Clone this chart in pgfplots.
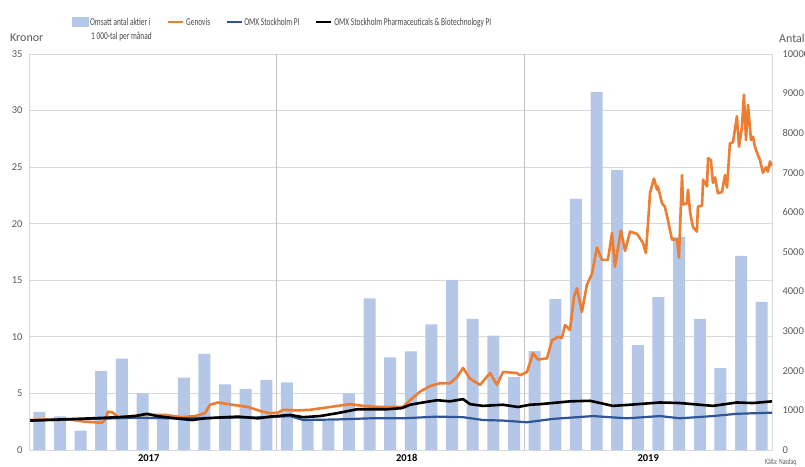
\documentclass[border=0pt]{standalone}
\usepackage{fontspec}
\setmainfont{Carlito}
\newfontfamily\legfont[FakeStretch=0.7]{Carlito}
\usepackage{pgfplots}
\pgfplotsset{compat=1.18}

\definecolor{barblue}{RGB}{180,199,231}
\definecolor{genorange}{RGB}{237,125,49}
\definecolor{omxblue}{RGB}{47,85,151}
\definecolor{ticktext}{RGB}{89,89,89}
\definecolor{gridgray}{RGB}{217,217,217}

\pgfplotsset{
  base/.style={
    scale only axis,
    width=743pt, height=396pt,
    xmin=0, xmax=36,
    at={(0,0)}, anchor=south west,
    major tick length=0pt,
    /pgf/number format/assume math mode=true,
    /pgf/number format/1000 sep={},
    scaled y ticks=false,
    tick label style={text=ticktext, font=\fontsize{10.5}{12}\selectfont},
  },
}

\begin{document}
\begin{tikzpicture}
  % grid, left axis, years
  \begin{axis}[base, clip=false,
      ymin=0, ymax=35, ytick={0,5,...,35},
      ymajorgrids, grid style={gridgray, line width=0.8pt},
      axis line style={gridgray, line width=0.8pt},
      yticklabel style={xshift=-3pt},
      xtick={5.8,18.3,30}, xticklabels={2017,2018,2019},
      xticklabel style={font=\bfseries\fontsize{10.5}{12}\selectfont, text=black, yshift=-1pt},
      extra x ticks={12,24}, extra x tick labels={},
      extra x tick style={grid=major, major grid style={gray!45, line width=0.5pt}},
    ]
    \node[anchor=west, text=ticktext, font=\fontsize{12}{14}\selectfont, inner sep=0pt]
      at (axis description cs:-0.0256,1.0404) {Kronor};
    \node[anchor=west, text=ticktext, font=\fontsize{12}{14}\selectfont, inner sep=0pt]
      at (axis description cs:1.0094,1.0404) {Antal};
    \node[anchor=west, text=ticktext, font=\legfont\fontsize{8}{9}\selectfont, inner sep=0pt]
      at (axis description cs:0.9906,-0.030) {Källa: Nasdaq};
  \end{axis}

  % monthly turnover, right axis
  \begin{axis}[base,
      ymin=0, ymax=10000, ytick={0,1000,...,10000},
      axis y line*=right, axis x line=none,
      y axis line style={draw=none},
      yticklabel style={xshift=7pt},
      ybar, bar width=12pt,
    ]
    \addplot[fill=barblue, draw=none] coordinates {
      (0.5,960) (1.5,850) (2.5,490) (3.5,2000) (4.5,2310) (5.5,1430)
      (6.5,890) (7.5,1830) (8.5,2430) (9.5,1660) (10.5,1540) (11.5,1770)
      (12.5,1710) (13.5,800) (14.5,740) (15.5,1430) (16.5,3830) (17.5,2340)
      (18.5,2490) (19.5,3170) (20.5,4290) (21.5,3310) (22.5,2890) (23.5,1840)
      (24.5,2500) (25.5,3810) (26.5,6340) (27.5,9040) (28.5,7070) (29.5,2650)
      (30.5,3860) (31.5,5380) (32.5,3310) (33.5,2070) (34.5,4900) (35.5,3740)
    };
  \end{axis}

  % price lines, left axis
  \begin{axis}[base,
      ymin=0, ymax=35, hide axis,
      legend columns=4,
      legend style={
        at={(0.0579,1.0985)}, anchor=north west,
        draw=none, fill=none, inner sep=0pt,
        font=\legfont\fontsize{10.5}{14}\selectfont, text=ticktext!80!black,
        cells={anchor=base west},
        nodes={inner sep=0.5pt},
        /tikz/every odd column/.append style={column sep=1pt},
        /tikz/every even column/.append style={column sep=15pt},
      },
      legend image code/.code={\draw[#1] (0pt,3.5pt) -- (15pt,3.5pt);},
    ]
    \addlegendimage{legend image code/.code={\fill[barblue] (0pt,-1pt) rectangle (16pt,8pt);}}
    \addlegendentry{\begin{tabular}[t]{@{}l@{}}Omsatt antal aktier i\\\hspace*{1pt}1\,000-tal per månad\end{tabular}}

    \addplot[genorange, line width=2.6pt, line join=round] coordinates {
      (0.05,2.65)(0.78,2.7)(1.41,2.65)(1.99,2.7)(2.71,2.5)(3.20,2.45)(3.54,2.4)
      (3.73,2.8)(3.83,3.4)(4.07,3.3)(4.31,2.9)(4.99,3.0)(5.62,3.1)(6.59,3.1)
      (7.41,2.9)(8.04,3.0)(8.53,3.25)(8.77,4.0)(9.16,4.2)(9.84,4.0)(10.61,3.8)
      (11.29,3.4)(11.68,3.25)(12.06,3.3)(12.31,3.55)(12.98,3.5)(13.61,3.55)
      (14.58,3.8)(15.55,4.05)(16.18,3.9)(17.01,3.8)(18.12,3.8)(18.46,4.4)
      (18.94,5.15)(19.43,5.65)(19.91,5.9)(20.40,5.9)(20.74,6.45)(21.03,7.25)
      (21.37,6.3)(21.85,5.75)(22.34,6.8)(22.67,5.75)(22.97,6.9)(23.64,6.8)
      (23.79,6.6)(24.13,6.9)(24.42,8.55)(24.66,8.0)(25.10,8.1)(25.34,9.7)
      (25.63,10.0)(25.82,9.9)(25.97,11.05)(26.21,10.6)(26.41,13.55)(26.55,14.3)
      (26.79,12.2)(27.03,14.6)(27.28,15.6)(27.52,17.9)(27.76,16.8)(28.05,16.8)
      (28.25,19.2)(28.39,16.2)(28.68,19.4)(28.88,17.6)(29.12,19.3)(29.46,19.1)
      (29.75,18.3)(29.89,17.4)(29.99,20.0)(30.09,22.7)(30.28,24.0)(30.43,23.0)
      (30.47,23.3)(30.67,21.8)(30.81,21.5)(30.96,20.3)(31.15,18.6)(31.40,18.6)
      (31.49,17.0)(31.64,24.3)(31.69,21.7)(31.88,21.8)(31.93,23.0)(32.03,21.0)
      (32.17,19.7)(32.36,19.3)(32.41,21.5)(32.61,21.6)(32.66,23.9)(32.85,23.3)
      (32.90,25.8)(33.04,25.6)(33.14,23.6)(33.24,24.1)(33.38,22.7)(33.58,22.8)
      (33.72,24.3)(33.82,23.2)(33.96,27.1)(34.11,27.2)(34.30,29.5)(34.40,26.8)
      (34.54,28.5)(34.64,31.4)(34.74,27.4)(34.84,30.5)(34.98,27.4)(35.08,27.7)
      (35.17,26.8)(35.27,26.3)(35.42,25.6)(35.56,24.5)(35.71,25.0)(35.80,24.6)
      (35.90,25.5)(36.0,25.1)
    };
    \addlegendentry{Genovis}

    \addplot[omxblue, line width=2.2pt, line join=round] coordinates {
      (0.05,2.6)(3.05,2.75)(5.14,2.85)(7.07,2.8)(9.50,2.85)(11.68,2.9)
      (12.65,3.0)(13.28,2.65)(14.92,2.7)(16.52,2.8)(18.12,2.8)(19.77,2.95)
      (21.03,2.9)(22.00,2.65)(22.97,2.6)(24.13,2.45)(25.39,2.75)(27.33,3.0)
      (28.97,2.8)(30.57,3.0)(31.54,2.8)(33.14,3.0)(34.30,3.2)(36.0,3.3)
    };
    \addlegendentry{OMX Stockholm PI}

    \addplot[black, line width=2.6pt, line join=round] coordinates {
      (0.05,2.6)(3.05,2.8)(4.31,2.9)(5.14,3.0)(5.72,3.2)(6.20,3.0)(7.07,2.8)
      (7.90,2.65)(8.53,2.8)(9.50,2.9)(10.13,2.95)(11.10,2.8)(11.68,2.95)
      (12.65,3.1)(13.28,2.9)(14.10,3.0)(14.92,3.25)(15.89,3.6)(17.34,3.6)
      (18.07,3.7)(18.46,4.0)(19.09,4.2)(19.77,4.4)(20.40,4.3)(21.03,4.5)
      (21.37,4.05)(22.00,3.9)(22.97,4.0)(23.69,3.8)(24.27,4.0)(24.76,4.05)
      (26.21,4.3)(27.18,4.35)(28.29,3.9)(29.12,4.0)(30.57,4.2)(31.54,4.15)
      (33.14,3.9)(34.30,4.2)(35.08,4.15)(36.0,4.3)
    };
    \addlegendentry{OMX Stockholm Pharmaceuticals \& Biotechnology PI}
  \end{axis}
  \pgfresetboundingbox
  \path[use as bounding box] (-29pt,-16pt) rectangle (776pt,450pt);
\end{tikzpicture}
\end{document}
